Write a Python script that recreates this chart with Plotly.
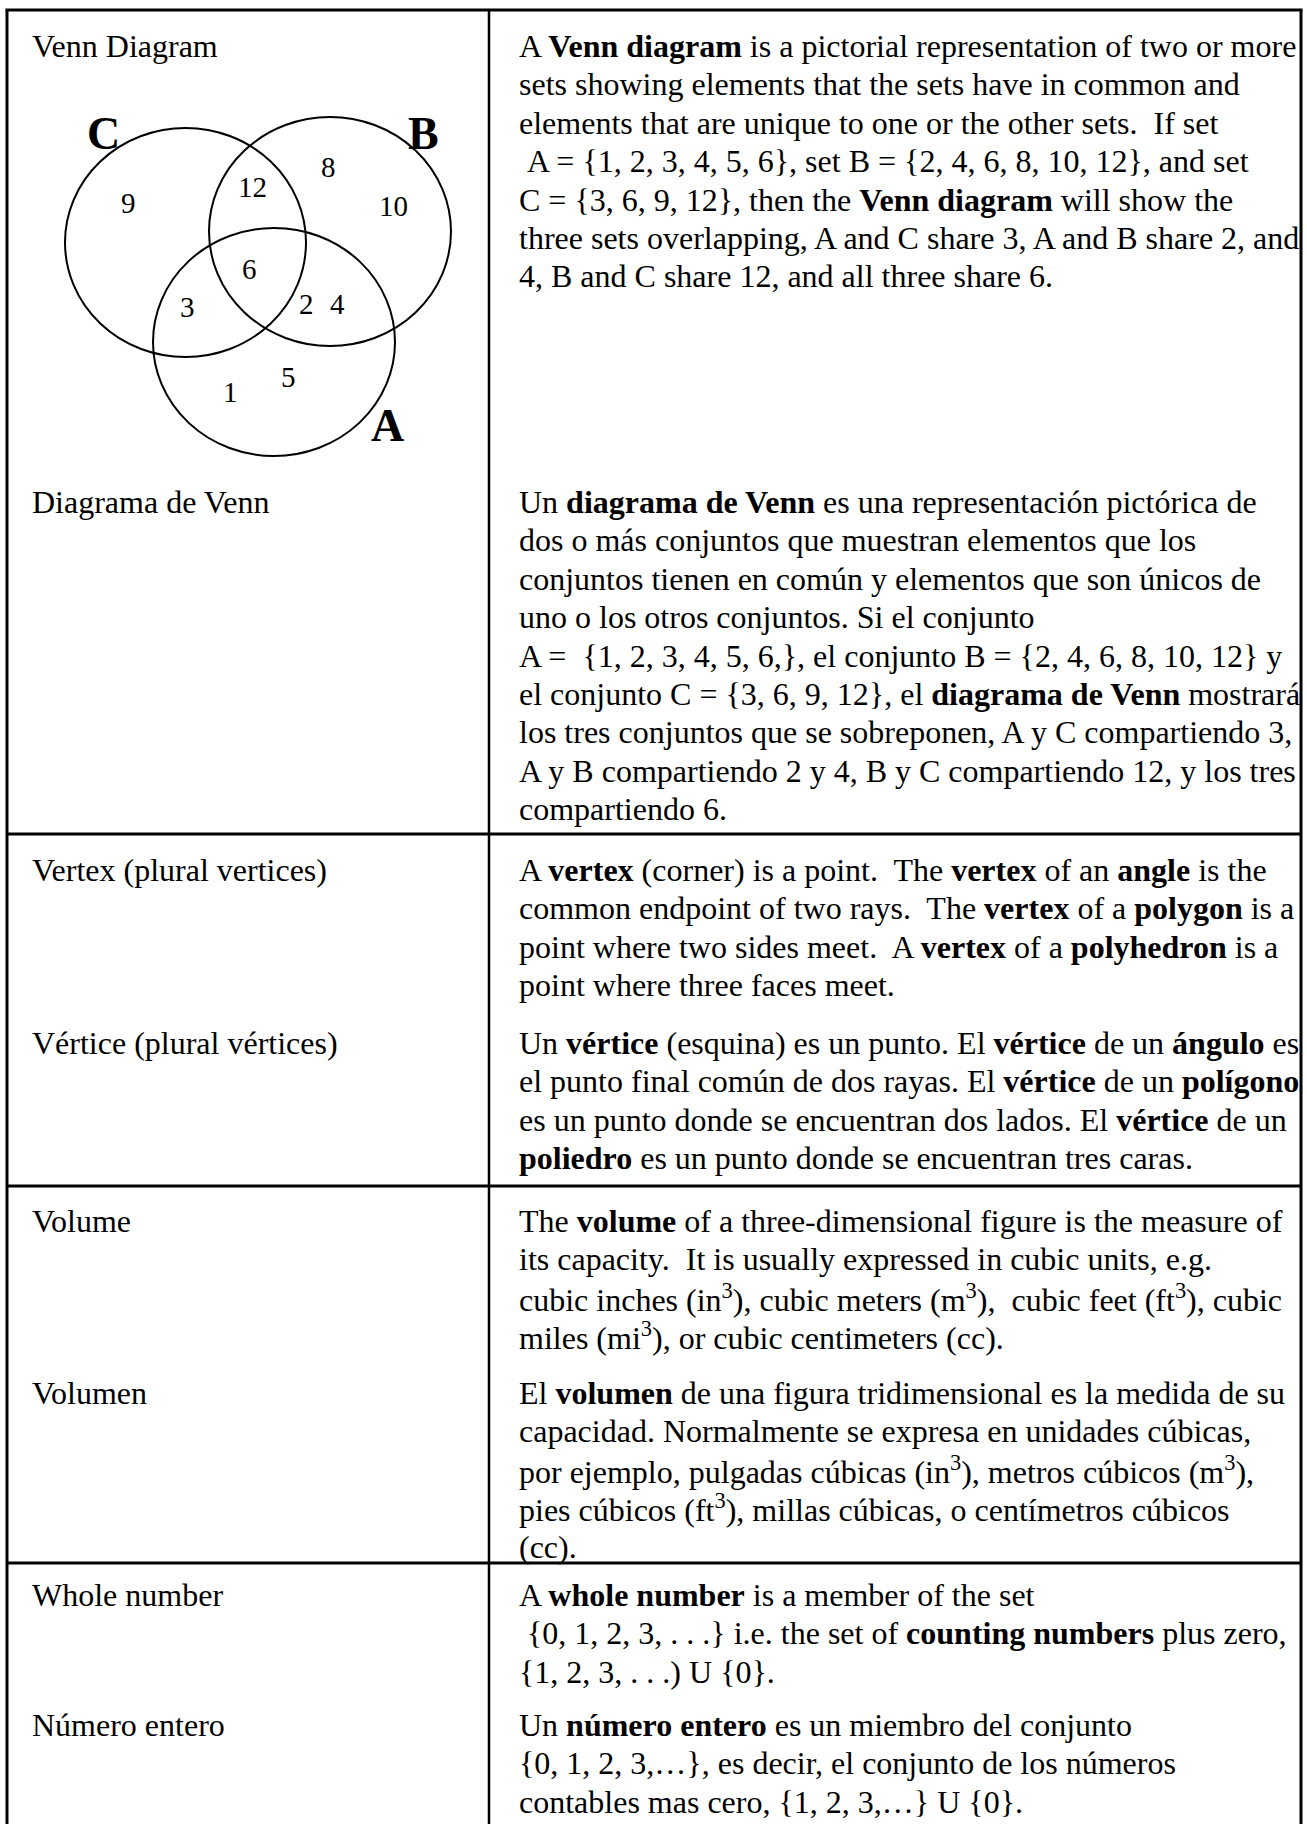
import plotly.graph_objects as go

# ---------------- data ----------------
W, H = 1307, 1824
FONT = "Liberation Serif"
FS = 32

# Venn diagram sets and their element labels
set_names = ["C", "B", "A"]
set_cx = [185.5, 330.0, 274.0]
set_cy = [242.5, 231.5, 342.0]
set_rx = [120.5, 121.0, 121.0]
set_ry = [114.5, 114.5, 114.0]
set_label_x = [103, 423, 387]
set_label_y = [133, 133, 425]

elem_text = ["9", "12", "8", "10", "6", "3", "2", "4", "1", "5"]
elem_x = [128, 252, 328, 393, 249, 187, 306, 337, 230, 288]
elem_y = [203, 187, 167, 206, 269, 307, 304, 304, 392, 377]

# table geometry
tbl_left, tbl_right, tbl_top = 7, 1301, 10
col_div = 489
row_lines = [834, 1186, 1563]
left_x, right_x = 30, 517
LS = 38.4

terms = ["Venn Diagram", "Diagrama de Venn",
         "Vertex (plural vertices)", "Vértice (plural vértices)",
         "Volume", "Volumen",
         "Whole number", "Número entero"]
term_y = [46, 502, 870, 1043, 1221, 1393, 1595, 1725]

NB = "\u00a0"
definitions = [
    ["A <b>Venn diagram</b> is a pictorial representation of two or more",
     "sets showing elements that the sets have in common and",
     "elements that are unique to one or the other sets." + NB + " If set",
     NB + "A = {1, 2, 3, 4, 5, 6}, set B = {2, 4, 6, 8, 10, 12}, and set",
     "C = {3, 6, 9, 12}, then the <b>Venn diagram</b> will show the",
     "three sets overlapping, A and C share 3, A and B share 2, and",
     "4, B and C share 12, and all three share 6."],
    ["Un <b>diagrama de Venn</b> es una representación pictórica de",
     "dos o más conjuntos que muestran elementos que los",
     "conjuntos tienen en común y elementos que son únicos de",
     "uno o los otros conjuntos. Si el conjunto",
     "A = " + NB + "{1, 2, 3, 4, 5, 6,}, el conjunto B = {2, 4, 6, 8, 10, 12} y",
     "el conjunto C = {3, 6, 9, 12}, el <b>diagrama de Venn</b> mostrará",
     "los tres conjuntos que se sobreponen, A y C compartiendo 3,",
     "A y B compartiendo 2 y 4, B y C compartiendo 12, y los tres",
     "compartiendo 6."],
    ["A <b>vertex</b> (corner) is a point." + NB + " The <b>vertex</b> of an <b>angle</b> is the",
     "common endpoint of two rays." + NB + " The <b>vertex</b> of a <b>polygon</b> is a",
     "point where two sides meet." + NB + " A <b>vertex</b> of a <b>polyhedron</b> is a",
     "point where three faces meet."],
    ["Un <b>vértice</b> (esquina) es un punto. El <b>vértice</b> de un <b>ángulo</b> es",
     "el punto final común de dos rayas. El <b>vértice</b> de un <b>polígono</b>",
     "es un punto donde se encuentran dos lados. El <b>vértice</b> de un",
     "<b>poliedro</b> es un punto donde se encuentran tres caras."],
    ["The <b>volume</b> of a three-dimensional figure is the measure of",
     "its capacity." + NB + " It is usually expressed in cubic units, e.g.",
     "cubic inches (in<sup>3</sup>), cubic meters (m<sup>3</sup>)," + NB + " cubic feet (ft<sup>3</sup>), cubic",
     "miles (mi<sup>3</sup>), or cubic centimeters (cc)."],
    ["El <b>volumen</b> de una figura tridimensional es la medida de su",
     "capacidad. Normalmente se expresa en unidades cúbicas,",
     "por ejemplo, pulgadas cúbicas (in<sup>3</sup>), metros cúbicos (m<sup>3</sup>),",
     "pies cúbicos (ft<sup>3</sup>), millas cúbicas, o centímetros cúbicos",
     "(cc)."],
    ["A <b>whole number</b> is a member of the set",
     NB + "{0, 1, 2, 3, . . .} i.e. the set of <b>counting numbers</b> plus zero,",
     "{1, 2, 3, . . .) U {0}."],
    ["Un <b>número entero</b> es un miembro del conjunto",
     "{0, 1, 2, 3,…}, es decir, el conjunto de los números",
     "contables mas cero, {1, 2, 3,…} U {0}."],
]

# ---------------- figure ----------------
fig = go.Figure()
fig.add_trace(go.Scatter(x=[0, W], y=[0, H], mode="markers",
                         marker=dict(opacity=0), hoverinfo="skip", showlegend=False))

shapes = []
blk = "black"
shapes.append(dict(type="line", x0=tbl_left, x1=tbl_left, y0=tbl_top, y1=H + 5, line=dict(color=blk, width=3)))
shapes.append(dict(type="line", x0=tbl_right, x1=tbl_right, y0=tbl_top, y1=H + 5, line=dict(color=blk, width=3)))
shapes.append(dict(type="line", x0=tbl_left - 1.5, x1=tbl_right + 1.5, y0=tbl_top, y1=tbl_top, line=dict(color=blk, width=3)))
shapes.append(dict(type="line", x0=col_div, x1=col_div, y0=tbl_top, y1=H + 5, line=dict(color=blk, width=2.5)))
for ry in row_lines:
    shapes.append(dict(type="line", x0=tbl_left, x1=tbl_right, y0=ry, y1=ry, line=dict(color=blk, width=3)))

for cx, cy, rx, ry in zip(set_cx, set_cy, set_rx, set_ry):
    shapes.append(dict(type="circle", x0=cx - rx, x1=cx + rx, y0=cy - ry, y1=cy + ry,
                       line=dict(color=blk, width=2)))

ann = []
for name, x, y in zip(set_names, set_label_x, set_label_y):
    ann.append(dict(x=x, y=y, text="<b>" + name + "</b>", showarrow=False,
                    font=dict(family=FONT, size=46, color=blk), xanchor="center", yanchor="middle"))
for t, x, y in zip(elem_text, elem_x, elem_y):
    ann.append(dict(x=x, y=y, text=t, showarrow=False,
                    font=dict(family=FONT, size=29, color=blk), xanchor="center", yanchor="middle"))

for term, y0, lines in zip(terms, term_y, definitions):
    ann.append(dict(x=left_x, y=y0, text=term, showarrow=False,
                    font=dict(family=FONT, size=FS, color=blk), xanchor="left", yanchor="middle"))
    for i, ln in enumerate(lines):
        ann.append(dict(x=right_x, y=y0 + i * LS, text=ln, showarrow=False,
                        font=dict(family=FONT, size=FS, color=blk), xanchor="left", yanchor="middle"))

fig.update_layout(
    width=W, height=H,
    margin=dict(l=0, r=0, t=0, b=0),
    paper_bgcolor="white", plot_bgcolor="white",
    xaxis=dict(range=[0, W], visible=False, fixedrange=True),
    yaxis=dict(range=[H, 0], visible=False, fixedrange=True),
    shapes=shapes, annotations=ann, showlegend=False,
)
fig.write_html(
    "out.html",
    config={"displayModeBar": False},
    post_script="document.body.style.margin='0';document.body.style.padding='0';"
                "document.documentElement.style.overflow='hidden';",
)
